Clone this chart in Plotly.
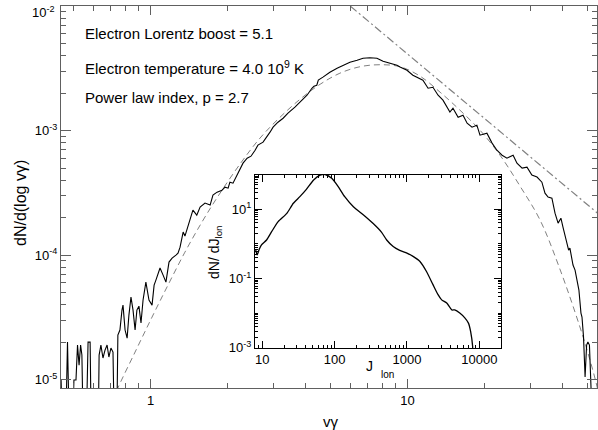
import numpy as np
import plotly.graph_objects as go

# ---------------- data (log10 values) ----------------
spec_log_gamma = [-0.348, -0.341, -0.331, -0.323, -0.315, -0.305, -0.298, -0.290, -0.284, -0.278,
                  -0.272, -0.267, -0.261, -0.251, -0.243, -0.235, -0.230, -0.216, -0.204, -0.200,
                  -0.193, -0.185, -0.177, -0.169, -0.162, -0.154, -0.146, -0.140, -0.132, -0.127,
                  -0.119, -0.111, -0.107, -0.099, -0.091, -0.084, -0.076, -0.068, -0.060, -0.053,
                  -0.045, -0.037, -0.029, -0.018, -0.006, 0.006, 0.014, 0.021, 0.037, 0.049,
                  0.060, 0.072, 0.084, 0.099, 0.107, 0.115, 0.127, 0.134, 0.146, 0.154,
                  0.165, 0.180, 0.193, 0.212, 0.232, 0.243, 0.259, 0.278, 0.290, 0.302,
                  0.309, 0.321, 0.337, 0.348, 0.360, 0.376, 0.391, 0.407, 0.418, 0.438,
                  0.453, 0.465, 0.477, 0.496, 0.516, 0.535, 0.562, 0.582, 0.609, 0.628,
                  0.636, 0.647, 0.653, 0.671, 0.698, 0.726, 0.749, 0.776, 0.804, 0.827,
                  0.854, 0.881, 0.905, 0.932, 0.959, 0.971, 0.998, 1.021, 1.060, 1.080,
                  1.099, 1.119, 1.138, 1.165, 1.177, 1.197, 1.216, 1.232, 1.251, 1.270,
                  1.282, 1.309, 1.329, 1.348, 1.368, 1.387, 1.411, 1.426, 1.446, 1.465,
                  1.484, 1.504, 1.523, 1.535, 1.547, 1.562, 1.574, 1.586, 1.597, 1.605,
                  1.621, 1.627, 1.632, 1.644, 1.652, 1.660, 1.667, 1.675, 1.679, 1.685,
                  1.691, 1.697, 1.702, 1.708, 1.714, 1.722]
spec_log_dn = [-5.004, -5.5, -5.5, -4.699, -5.5, -5.5, -5.004, -5.004, -4.723, -4.884,
               -4.723, -4.803, -5.5, -5.5, -4.699, -4.699, -5.5, -5.5, -5.5, -4.803,
               -4.723, -4.827, -4.763, -4.723, -4.819, -4.747, -4.779, -5.5, -5.5, -4.643,
               -4.602, -4.442, -4.402, -4.602, -4.667, -4.482, -4.337, -4.442, -4.602, -4.442,
               -4.410, -4.546, -4.361, -4.217, -4.361, -4.402, -4.241, -4.201, -4.104, -4.161,
               -4.217, -4.056, -4.024, -4.000, -3.984, -3.936, -3.815, -3.847, -3.767, -3.703,
               -3.639, -3.679, -3.614, -3.582, -3.598, -3.518, -3.494, -3.478, -3.454, -3.462,
               -3.414, -3.422, -3.357, -3.301, -3.261, -3.221, -3.205, -3.157, -3.116, -3.092,
               -3.052, -3.012, -2.972, -2.932, -2.900, -2.859, -2.811, -2.771, -2.715, -2.659,
               -2.643, -2.635, -2.594, -2.570, -2.530, -2.498, -2.474, -2.450, -2.434, -2.418,
               -2.414, -2.418, -2.442, -2.458, -2.474, -2.488, -2.514, -2.554, -2.594, -2.659,
               -2.651, -2.715, -2.755, -2.851, -2.819, -2.892, -2.876, -2.940, -2.972, -2.956,
               -3.036, -3.020, -3.100, -3.157, -3.197, -3.221, -3.197, -3.261, -3.301, -3.293,
               -3.357, -3.373, -3.414, -3.502, -3.534, -3.542, -3.663, -3.743, -3.703, -3.775,
               -3.895, -3.960, -3.944, -4.080, -4.120, -4.201, -4.281, -4.466, -4.498, -4.659,
               -4.980, -4.723, -4.699, -4.723, -4.988, -5.5]

# thermal (dashed) model curve
mj_log_gamma = [-0.146, -0.127, -0.060, 0.006, 0.068, 0.134, 0.200, 0.263, 0.348, 0.426,
                0.504, 0.582, 0.660, 0.737, 0.815, 0.893, 0.971, 1.049, 1.127, 1.204,
                1.282, 1.360, 1.438, 1.516, 1.593, 1.671, 1.710, 1.737, 1.757]
mj_log_dn = [-5.165, -5.068, -4.779, -4.498, -4.241, -3.976, -3.735, -3.526, -3.269, -3.060,
             -2.892, -2.747, -2.627, -2.538, -2.486, -2.470, -2.486, -2.562, -2.691, -2.835,
             -2.996, -3.197, -3.446, -3.719, -4.112, -4.578, -4.843, -5.052, -5.245]

# power law (dash-dot) end points
pl_gamma = [6.0, 56.0]
pl_dn = [1.0e-2, 2.1e-4]

# inset: dN/dJ_lon vs J_lon
inset_log_j = [0.91, 0.93, 0.96, 0.99, 1.06, 1.13, 1.22, 1.34, 1.43, 1.52,
               1.61, 1.71, 1.80, 1.87, 1.96, 2.05, 2.14, 2.26, 2.40, 2.53,
               2.65, 2.72, 2.81, 2.90, 3.00, 3.09, 3.18, 3.27, 3.36, 3.43,
               3.48, 3.55, 3.62, 3.66, 3.73, 3.80, 3.85, 3.88, 3.91, 3.92]
inset_log_dn = [-0.18, -0.32, -0.15, -0.03, 0.11, 0.35, 0.64, 0.88, 1.17, 1.36,
                1.57, 1.84, 1.98, 2.0, 1.89, 1.65, 1.36, 1.07, 0.83, 0.59,
                0.33, 0.11, -0.08, -0.19, -0.27, -0.37, -0.51, -0.80, -1.18, -1.47,
                -1.62, -1.71, -1.91, -1.91, -2.0, -2.14, -2.29, -2.53, -3.0, -3.5]

main_xticks = [1, 10]
main_xlabels = ["1", "10"]
main_yticks = [1e-5, 1e-4, 1e-3, 1e-2]
main_ylabels = ["10<sup>-5</sup>", "10<sup>-4</sup>", "10<sup>-3</sup>", ""]
main_ytop_label = "10<sup>-2</sup>"
inset_xticks = [10, 100, 1000, 10000]
inset_xlabels = ["10", "100", "1000", "10000"]
inset_yticks = [1e-3, 1e-1, 1e1]
inset_ylabels = ["10<sup>-3</sup>", "10<sup>-1</sup>", "10<sup>1</sup>"]

# ---------------- figure ----------------
W, H = 598, 430
FONT = "Liberation Sans"
AX = "#606060"


def decade_minors(lo, hi):
    vals = []
    for e in range(lo, hi + 1):
        for m in range(2, 10):
            vals.append(m * 10.0 ** e)
    return vals


fig = go.Figure()

fig.add_trace(go.Scatter(x=10 ** np.array(mj_log_gamma), y=10 ** np.array(mj_log_dn),
                         mode="lines", line=dict(color="#808080", width=1, dash="6px,4px", shape="spline"),
                         xaxis="x", yaxis="y", hoverinfo="skip"))
fig.add_trace(go.Scatter(x=pl_gamma, y=pl_dn, mode="lines",
                         line=dict(color="#808080", width=1.2, dash="8px,3px,2px,3px"),
                         xaxis="x", yaxis="y", hoverinfo="skip"))
fig.add_trace(go.Scatter(x=10 ** np.array(spec_log_gamma), y=10 ** np.array(spec_log_dn),
                         mode="lines", line=dict(color="black", width=1.1),
                         xaxis="x", yaxis="y", hoverinfo="skip"))
fig.add_trace(go.Scatter(x=10 ** np.array(inset_log_j), y=10 ** np.array(inset_log_dn),
                         mode="lines", line=dict(color="black", width=1.3, shape="spline", smoothing=0.6),
                         xaxis="x2", yaxis="y2", hoverinfo="skip"))

xd = [61 / W, 597 / W]
yd = [1 - 388 / H, 1 - 6 / H]
ixd = [255 / W, 501 / W]
iyd = [1 - 347.7 / H, 1 - 174.5 / H]

common = dict(showgrid=False, zeroline=False, showline=True, linewidth=1,
              ticks="inside", mirror="allticks", tickwidth=1, automargin=False,
              ticklabeloverflow="allow")

fig.update_layout(
    width=W, height=H, margin=dict(l=0, r=0, t=0, b=0, autoexpand=False),
    paper_bgcolor="white", plot_bgcolor="white", showlegend=False,
    font=dict(family=FONT, color="black", size=13),
    xaxis=dict(type="log", range=[-0.3483, 1.7374], domain=xd, anchor="y",
               linecolor=AX, tickcolor=AX, ticklen=9,
               tickmode="array", tickvals=main_xticks, ticktext=main_xlabels,
               tickfont=dict(size=13, family=FONT),
               minor=dict(tickmode="array", tickvals=[0.5, 0.6, 0.7, 0.8, 0.9] + decade_minors(0, 0) + [20, 30, 40, 50],
                          ticks="inside", ticklen=5, tickcolor=AX),
               **common),
    yaxis=dict(type="log", range=[-5.068, -1.998], domain=yd, anchor="x",
               linecolor=AX, tickcolor=AX, ticklen=10,
               tickmode="array", tickvals=main_yticks, ticktext=main_ylabels,
               tickfont=dict(size=13, family=FONT),
               minor=dict(tickmode="array", tickvals=decade_minors(-5, -3),
                          ticks="inside", ticklen=5, tickcolor=AX),
               **common),
    xaxis2=dict(type="log", range=[0.9, 4.3], domain=ixd, anchor="y2",
                linecolor="black", tickcolor="black", ticklen=7,
                tickmode="array", tickvals=inset_xticks, ticktext=inset_xlabels,
                tickfont=dict(size=13, family=FONT),
                minor=dict(tickmode="array", tickvals=decade_minors(0, 4),
                           ticks="inside", ticklen=3, tickcolor="black"),
                **common),
    yaxis2=dict(type="log", range=[-3, 2], domain=iyd, anchor="x2",
                linecolor="black", tickcolor="black", ticklen=7,
                tickmode="array", tickvals=inset_yticks, ticktext=inset_ylabels,
                tickfont=dict(size=13, family=FONT),
                minor=dict(tickmode="array", tickvals=decade_minors(-3, 1) + [1e-2, 1, 100],
                           ticks="inside", ticklen=3, tickcolor="black"),
                **common),
)

# top y tick label, nudged down so it stays inside the page as in the reference
fig.add_annotation(text=main_ytop_label, xref="paper", yref="paper", x=57 / W, y=1 - 12 / H,
                   xanchor="right", yanchor="middle", showarrow=False,
                   font=dict(size=13, family=FONT, color="black"))

anns = [
    dict(text="Electron Lorentz boost = 5.1", x=83 / W, y=1 - 34 / H),
    dict(text="Electron temperature = 4.0 10<sup>9</sup> K", x=83 / W, y=1 - 67 / H),
    dict(text="Power law index, p = 2.7", x=83 / W, y=1 - 97 / H),
]
for a in anns:
    fig.add_annotation(xref="paper", yref="paper", xanchor="left", yanchor="middle",
                       showarrow=False, font=dict(size=15, family=FONT, color="black"), **a)

fig.add_annotation(text="v\u03b3", xref="paper", yref="paper", x=331 / W, y=1 - 421 / H,
                   xanchor="center", yanchor="middle", showarrow=False,
                   font=dict(size=15, family=FONT))
fig.add_annotation(text="dN/d(log v\u03b3)", xref="paper", yref="paper", x=20 / W, y=1 - 203 / H,
                   xanchor="center", yanchor="middle", showarrow=False, textangle=-90,
                   font=dict(size=16, family=FONT))
fig.add_annotation(text="dN/ dJ<sub>lon</sub>", xref="paper", yref="paper", x=215 / W, y=1 - 252 / H,
                   xanchor="center", yanchor="middle", showarrow=False, textangle=-90,
                   font=dict(size=14, family=FONT))
fig.add_annotation(text="J", xref="paper", yref="paper", x=369 / W, y=1 - 366 / H,
                   xanchor="center", yanchor="middle", showarrow=False,
                   font=dict(size=14, family=FONT))
fig.add_annotation(text="lon", xref="paper", yref="paper", x=387 / W, y=1 - 374 / H,
                   xanchor="center", yanchor="middle", showarrow=False,
                   font=dict(size=10, family=FONT))

fig.write_html("out.html", config={"displayModeBar": False},
               post_script="document.body.style.margin='0px';document.body.style.overflow='hidden';")
